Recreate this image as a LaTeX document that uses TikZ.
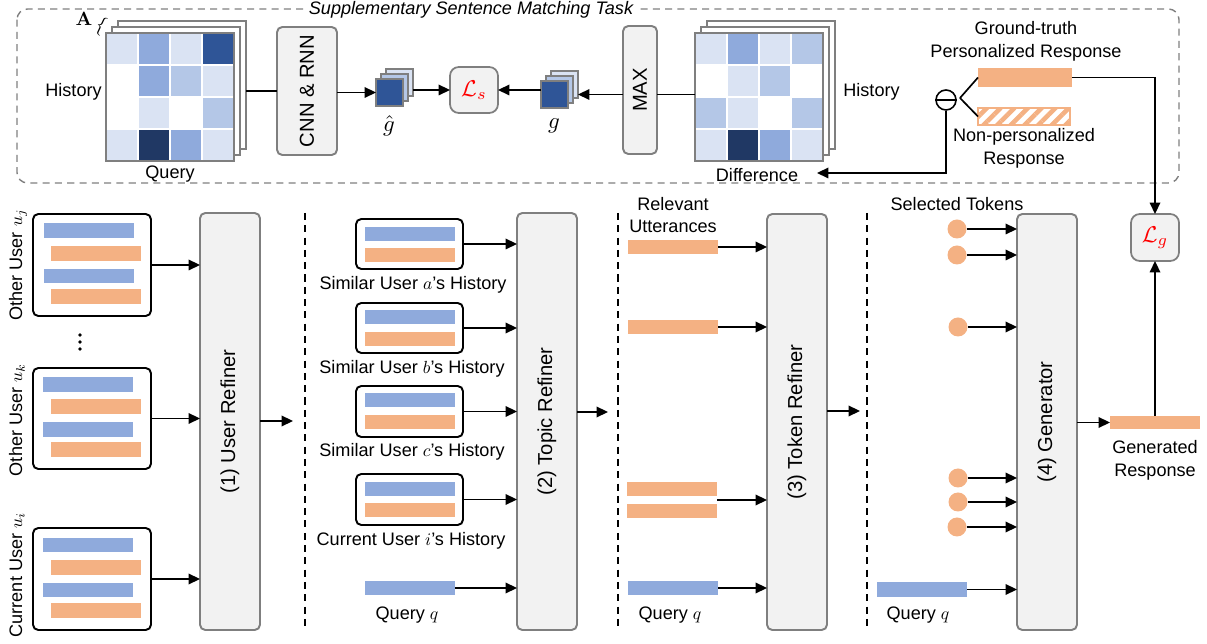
\documentclass[tikz,border=0pt]{standalone}
\usepackage[no-math]{fontspec}
\setmainfont{Liberation Sans}
\usetikzlibrary{arrows.meta,patterns.meta,calc}
\definecolor{obar}{HTML}{F4B183}
\definecolor{bbar}{HTML}{8FAADC}
\definecolor{gfill}{HTML}{F2F2F2}
\definecolor{gbord}{HTML}{7F7F7F}
\definecolor{cA}{HTML}{DAE3F3}
\definecolor{cB}{HTML}{B4C7E7}
\definecolor{cC}{HTML}{8FAADC}
\definecolor{cD}{HTML}{2F5597}
\definecolor{cE}{HTML}{203864}
\definecolor{cW}{HTML}{FFFFFF}
\newcommand\rbox[6]{\node[#1,inner sep=0pt,outer sep=0pt,minimum width={(#4-#2)*0.02cm},minimum height={(#5-#3)*0.02cm}] (#6) at ({(#2+#4)/2},{(#3+#5)/2}) {};}
\newcommand\heatcells[3]{%
  \foreach \cc [count=\k from 0] in {#3}{%
    \pgfmathtruncatemacro\ci{mod(\k,4)}%
    \pgfmathtruncatemacro\cj{div(\k,4)}%
    \fill[\cc] ({#1+\ci*32+1},{#2+\cj*32+1}) rectangle ++(30,30);
  }}
\tikzset{
  refiner/.style={draw=gbord,fill=gfill,rounded corners=3pt,line width=1.1pt},
  ubox/.style={draw=black,fill=white,rounded corners=3pt,line width=1.1pt},
  ob/.style={fill=obar},
  bb/.style={fill=bbar},
  layer/.style={draw=gbord,fill=white,line width=1pt},
  arr/.style={-{Triangle[length=6.5pt,width=6pt]},line width=0.95pt},
  ln/.style={line width=0.95pt},
  sep/.style={dash pattern=on 4pt off 3pt,line width=0.8pt},
  lbl/.style={font=\fontsize{10.3}{12.5}\selectfont,inner sep=0pt},
  big/.style={font=\fontsize{11.5}{13}\selectfont,inner sep=0pt},
  tok/.style={circle,fill=obar,inner sep=0pt,minimum size={19*0.02cm}},
}
\begin{document}
\begin{tikzpicture}[x=0.02cm,y=-0.02cm]
\useasboundingbox (0,0) rectangle (1207,644);
% ---------- top dashed frame ----------
\draw[gbord,dash pattern=on 4pt off 3pt,line width=0.8pt,rounded corners=6pt] (17,9) rectangle (1179,183);
\node[lbl,fill=white,inner xsep=3pt,inner ysep=1pt,font=\fontsize{10.3}{12}\selectfont\itshape] (title) at (471,10) {Supplementary Sentence Matching Task};
% left heat map
\rbox{layer}{118}{21}{246}{149}{M1c}
\rbox{layer}{112}{27}{240}{155}{M1b}
\rbox{layer}{106}{33}{234}{161}{M1}
\heatcells{106}{33}{cA,cC,cA,cD,cW,cC,cB,cA,cW,cA,cW,cB,cA,cE,cC,cA}
\draw[gbord,line width=1pt] (M1.north west) rectangle (M1.south east);
\node[lbl,anchor=east] (hist1) at (102,92) {History};
\node[lbl] (query1) at (170,174) {Query};
\node[inner sep=0pt,font=\fontsize{11}{11}\selectfont] (Alab) at (84,19) {$\mathbf{A}$};
\node[inner sep=0pt,rotate=-25,font=\fontsize{11}{11}\selectfont] (Abr) at (101,26) {$\{$};
% CNN & RNN
\rbox{refiner}{277}{27}{337}{155}{cnn}
\node[big,rotate=90] (cnnt) at (cnn.center) {CNN \& RNN};
\draw[ln] (M1c.east |- cnn.west) -- (cnn.west);
% g-hat stack
\rbox{layer,fill=cA}{386}{69}{413}{96}{gh3}
\rbox{layer,fill=cB}{381}{74}{408}{101}{gh2}
\rbox{layer,fill=cD}{376}{79}{403}{106}{gh}
\node[inner sep=0pt,scale=1.3] (ghl) at (389,126) {$\hat{g}$};
\draw[arr] (cnn.east |- gh.west) -- (gh.west);
% L_s
\rbox{refiner,line width=1pt,rounded corners=5pt}{450}{67}{498}{113}{Ls}
\node[inner sep=0pt,text=red,scale=1.3] (Lst) at (Ls.center) {$\mathcal{L}_s$};
\draw[arr] (gh3.east |- Ls.west) -- (Ls.west);
% g stack
\rbox{layer,fill=cA}{551}{71}{578}{98}{g3}
\rbox{layer,fill=cB}{546}{76}{573}{103}{g2}
\rbox{layer,fill=cD}{541}{81}{568}{108}{g}
\node[inner sep=0pt,scale=1.3] (gl) at (554,126) {$g$};
\draw[arr] (g.west |- Ls.east) -- (Ls.east);
% MAX
\rbox{refiner}{623}{26}{657}{154}{max}
\node[big,rotate=90] (maxt) at (max.center) {MAX};
\draw[arr] (max.west |- g.center) -- (g3.east |- g.center);
% difference heat map
\rbox{layer}{707}{21}{835}{149}{D1c}
\rbox{layer}{701}{27}{829}{155}{D1b}
\rbox{layer}{695}{33}{823}{161}{D1}
\heatcells{695}{33}{cA,cC,cA,cB,cW,cA,cB,cW,cB,cA,cW,cB,cA,cE,cC,cA}
\draw[gbord,line width=1pt] (D1.north west) rectangle (D1.south east);
\draw[ln] (D1.west |- g.center) -- (max.east |- g.center);
\node[lbl,anchor=west] (hist2) at (843,92) {History};
\node[lbl] (diff) at (757,175) {Difference};
% responses
\node[circle,draw=black,line width=0.9pt,inner sep=0pt,minimum size={20*0.02cm}] (mn) at (946,100) {};
\draw[line width=0.9pt] (mn.west) -- (mn.east);
\coordinate (fork) at (960,98);
\rbox{ob}{978}{68}{1072}{87}{gt}
\rbox{draw=obar,line width=0.8pt,pattern={Lines[angle=45,distance=5.5pt,line width=2.6pt]},pattern color=obar}{978}{108}{1070}{125}{np}
\draw[ln] (fork) -- (gt.west);
\draw[ln] (fork) -- (np.west);
\node[lbl,align=center,font=\fontsize{10.3}{13}\selectfont] (gtl) at (1026,41) {Ground-truth\\Personalized Response};
\node[lbl,align=center,font=\fontsize{10.3}{13}\selectfont] (npl) at (1024,148) {Non-personalized\\Response};
\coordinate (dend) at (817,173);
\draw[arr] (mn.south) |- (dend);
% ---------- bottom ----------
\draw[sep] (305,213) -- (305,630);
\draw[sep] (618,213) -- (618,630);
\draw[sep] (867,213) -- (867,630);
% refiners
\rbox{refiner}{200}{213}{260}{630}{R1}
\rbox{refiner}{517}{213}{577}{630}{R2}
\rbox{refiner}{767}{214}{827}{630}{R3}
\rbox{refiner}{1017}{214}{1077}{630}{R4}
\node[big,rotate=90] (R1t) at (R1.center) {(1) User Refiner};
\node[big,rotate=90] (R2t) at (R2.center) {(2) Topic Refiner};
\node[big,rotate=90] (R3t) at (R3.center) {(3) Token Refiner};
\node[big,rotate=90] (R4t) at (R4.center) {(4) Generator};
% user boxes
\rbox{ubox}{33}{214}{151}{316}{U1}
\rbox{bb}{44}{223}{134}{238}{U1a}
\rbox{ob}{51}{246}{141}{261}{U1b}
\rbox{bb}{44}{269}{134}{283}{U1c}
\rbox{ob}{51}{289}{141}{304}{U1d}
\rbox{ubox}{33}{368}{151}{469}{U2}
\rbox{bb}{43}{377}{133}{392}{U2a}
\rbox{ob}{51}{399}{141}{414}{U2b}
\rbox{bb}{43}{422}{133}{437}{U2c}
\rbox{ob}{51}{442}{141}{457}{U2d}
\rbox{ubox}{33}{528}{151}{630}{U3}
\rbox{bb}{43}{538}{133}{552}{U3a}
\rbox{ob}{51}{560}{141}{575}{U3b}
\rbox{bb}{43}{583}{133}{597}{U3c}
\rbox{ob}{51}{603}{141}{618}{U3d}
\node[lbl,rotate=90] (U1l) at (18,265) {Other User $u_j$};
\node[lbl,rotate=90] (U2l) at (17,420) {Other User $u_k$};
\node[lbl,rotate=90] (U3l) at (17,575) {Current User $u_i$};
\foreach \yy in {335,342,349}{\fill (80,\yy) circle (1.05pt);}
\draw[arr] (U1.east) -- (U1.east -| R1.west);
\draw[arr] (U2.east) -- (U2.east -| R1.west);
\draw[arr] (U3.east) -- (U3.east -| R1.west);
\coordinate (o1) at (293,421);
\draw[arr] (R1.east |- o1) -- (o1);
% similar users
\rbox{ubox}{356}{219}{463}{269}{Sa}
\rbox{bb}{365}{227}{455}{241}{Saa}
\rbox{ob}{365}{248}{455}{262}{Sab}
\rbox{ubox}{356}{303}{463}{353}{Sb}
\rbox{bb}{365}{310}{455}{324}{Sba}
\rbox{ob}{365}{332}{455}{346}{Sbb}
\rbox{ubox}{356}{386}{463}{437}{Sc}
\rbox{bb}{365}{393}{455}{407}{Sca}
\rbox{ob}{365}{415}{455}{429}{Scb}
\rbox{ubox}{356}{474}{463}{525}{Si}
\rbox{bb}{365}{482}{455}{496}{Sia}
\rbox{ob}{365}{503}{455}{517}{Sib}
\rbox{bb}{365}{581}{455}{595}{Q2}
\node[lbl] (Sal) at (413,285) {Similar User $a$’s History};
\node[lbl] (Sbl) at (412,369) {Similar User $b$’s History};
\node[lbl] (Scl) at (412,452) {Similar User $c$’s History};
\node[lbl] (Sil) at (411,541) {Current User $i$’s History};
\node[lbl] (Q2l) at (407,615) {Query $q$};
\draw[arr] (Sa.east) -- (Sa.east -| R2.west);
\draw[arr] (Sb.east) -- (Sb.east -| R2.west);
\draw[arr] (Sc.east) -- (Sc.east -| R2.west);
\draw[arr] (Si.east) -- (Si.east -| R2.west);
\draw[arr] (Q2.east) -- (Q2.east -| R2.west);
\coordinate (o2) at (608,412);
\draw[arr] (R2.east |- o2) -- (o2);
% relevant utterances
\node[lbl,align=center,font=\fontsize{10.3}{13}\selectfont] (rul) at (673,215) {Relevant\\Utterances};
\rbox{ob}{628}{240}{718}{254}{r1}
\rbox{ob}{628}{320}{718}{334}{r2}
\rbox{ob}{627}{482}{717}{496}{r3}
\rbox{ob}{627}{504}{717}{518}{r4}
\rbox{bb}{628}{581}{718}{595}{Q3}
\node[lbl] (Q3l) at (670,615) {Query $q$};
\draw[arr] (r1.east) -- (r1.east -| R3.west);
\draw[arr] (r2.east) -- (r2.east -| R3.west);
\coordinate (r34) at ($(r3.south east)!0.5!(r4.north east)$);
\draw[arr] (r34) -- (r34 -| R3.west);
\draw[arr] (Q3.east) -- (Q3.east -| R3.west);
\coordinate (o3) at (860,411);
\draw[arr] (R3.east |- o3) -- (o3);
% selected tokens
\node[lbl] (stl) at (957,204) {Selected Tokens};
\node[tok] (t1) at (957,229) {};
\node[tok] (t2) at (957,255) {};
\node[tok] (t3) at (958,327) {};
\node[tok] (t4) at (958,478) {};
\node[tok] (t5) at (958,502) {};
\node[tok] (t6) at (957,527) {};
\foreach \t in {t1,t2,t3,t4,t5,t6}{\draw[arr] (\t.east) -- (\t.east -| R4.west);}
\rbox{bb}{877}{582}{967}{597}{Q4}
\node[lbl] (Q4l) at (918,615) {Query $q$};
\draw[arr] (Q4.east) -- (Q4.east -| R4.west);
% generated response
\rbox{ob}{1110}{416}{1200}{429}{gen}
\node[lbl,align=center,font=\fontsize{10.3}{13}\selectfont] (genl) at (1155,460) {Generated\\Response};
\draw[arr] (R4.east |- gen.west) -- (gen.west);
\rbox{refiner,line width=1pt,rounded corners=5pt}{1131}{214}{1179}{261}{Lg}
\node[inner sep=0pt,text=red,scale=1.3] (Lgt) at (Lg.center) {$\mathcal{L}_g$};
\draw[arr] (gen.north) -- (Lg.south);
\draw[arr] (gt.east) -| (Lg.north);
\end{tikzpicture}
\end{document}
